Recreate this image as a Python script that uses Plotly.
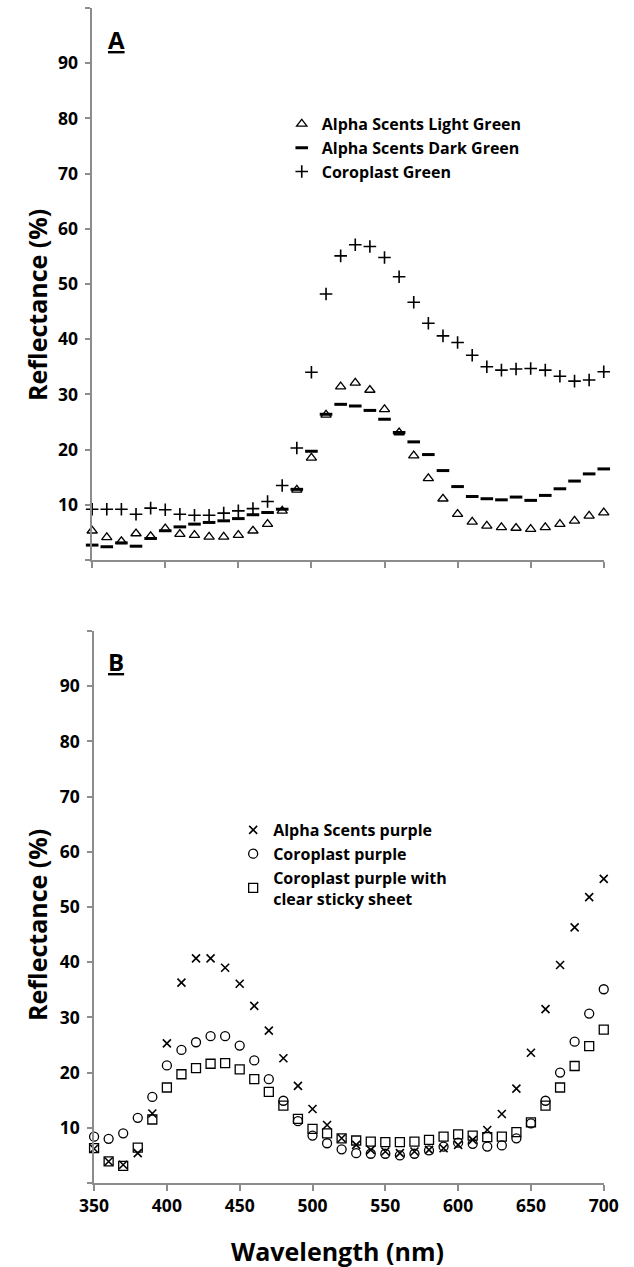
import plotly.graph_objects as go

W, H = 634, 1267

wavelength = [350, 360, 370, 380, 390, 400, 410, 420, 430, 440, 450, 460,
              470, 480, 490, 500, 510, 520, 530, 540, 550, 560, 570, 580,
              590, 600, 610, 620, 630, 640, 650, 660, 670, 680, 690, 700]

# Panel A
light_green = [5.3, 4.1, 3.4, 4.8, 4.3, 5.7, 4.7, 4.5, 4.2, 4.2, 4.5, 5.3,
               6.5, 8.9, 12.7, 18.5, 26.3, 31.4, 32.1, 30.8, 27.3, 23.1, 18.9, 14.8,
               11.1, 8.3, 6.9, 6.2, 5.9, 5.8, 5.6, 5.9, 6.5, 7.1, 8.0, 8.6]
dark_green = [2.7, 2.4, 3.1, 2.5, 3.9, 5.3, 6.0, 6.5, 6.8, 7.1, 7.5, 8.2,
              8.6, 9.2, 12.8, 19.7, 26.4, 28.2, 27.9, 27.1, 25.5, 23.1, 21.4, 19.1,
              16.2, 13.3, 11.5, 11.1, 10.9, 11.4, 10.8, 11.7, 12.9, 14.3, 15.6, 16.5]
coroplast_green = [9.2, 9.2, 9.2, 8.3, 9.4, 9.1, 8.3, 8.1, 8.1, 8.5, 8.9, 9.3,
                   10.6, 13.5, 20.3, 34.0, 48.2, 55.1, 57.1, 56.8, 54.8, 51.3, 46.7, 42.9,
                   40.6, 39.4, 37.1, 35.0, 34.4, 34.6, 34.7, 34.4, 33.3, 32.4, 32.6, 34.1]

# Panel B
alpha_purple = [6.2, 3.9, 3.3, 5.4, 12.6, 25.3, 36.3, 40.7, 40.7, 39.0, 36.1, 32.1,
                27.6, 22.6, 17.6, 13.4, 10.5, 8.1, 6.9, 6.0, 5.7, 5.4, 5.7, 6.0,
                6.3, 6.9, 7.8, 9.6, 12.5, 17.1, 23.6, 31.5, 39.5, 46.3, 51.8, 55.1]
coroplast_purple = [8.4, 8.0, 9.0, 11.8, 15.6, 21.3, 24.1, 25.5, 26.6, 26.6, 24.9, 22.2,
                    18.8, 14.9, 11.2, 8.6, 7.2, 6.1, 5.4, 5.3, 5.3, 5.0, 5.3, 5.9,
                    6.6, 7.3, 7.1, 6.6, 6.8, 8.1, 10.8, 14.9, 20.0, 25.6, 30.7, 35.1]
purple_sticky = [6.3, 3.9, 3.1, 6.4, 11.5, 17.3, 19.7, 20.8, 21.6, 21.7, 20.6, 18.8,
                 16.5, 14.0, 11.6, 9.8, 9.0, 8.1, 7.7, 7.5, 7.4, 7.4, 7.5, 7.8,
                 8.4, 8.8, 8.6, 8.3, 8.4, 9.2, 11.0, 14.0, 17.3, 21.2, 24.8, 27.8]

y_tickvals = [0, 10, 20, 30, 40, 50, 60, 70, 80, 90, 100]
y_ticktext = ["", "10", "20", "30", "40", "50", "60", "70", "80", "90", ""]
x_tickvals = [350, 400, 450, 500, 550, 600, 650, 700]

FONT = "Open Sans"
AXC = "#8c8c8c"

fig = go.Figure()

def add(x, y, name, symbol, size, lw, xa, ya, legend):
    fig.add_trace(go.Scatter(
        x=x, y=y, mode="markers", name=name, xaxis=xa, yaxis=ya, legend=legend,
        cliponaxis=False,
        marker=dict(symbol=symbol, size=size, color="black",
                    line=dict(width=lw, color="black")),
    ))

add(wavelength, light_green, "Alpha Scents Light Green", "triangle-up-open", 9, 1.3, "x", "y", "legend")
add(wavelength, dark_green, "Alpha Scents Dark Green", "line-ew", 9, 3, "x", "y", "legend")
add(wavelength, coroplast_green, "Coroplast Green", "cross-thin", 9, 1.6, "x", "y", "legend")

add(wavelength, alpha_purple, "Alpha Scents purple", "x-thin", 8, 1.6, "x2", "y2", "legend2")
add(wavelength, coroplast_purple, "Coroplast purple", "circle-open", 9, 1.3, "x2", "y2", "legend2")
add(wavelength, purple_sticky, "Coroplast purple with<br>clear sticky sheet", "square-open", 9, 1.3, "x2", "y2", "legend2")

def px_y(p):
    return 1 - p / H

axis_common = dict(showline=True, linecolor=AXC, linewidth=1.5, ticks="outside",
                   tickcolor=AXC, tickwidth=1.5, showgrid=False, zeroline=False,
                   tickfont=dict(family=FONT, size=17.5, color="black", weight="bold"))

leg_font = dict(family=FONT, size=16, color="black", weight="bold")

fig.update_layout(
    width=W, height=H, autosize=False,
    margin=dict(l=0, r=0, t=0, b=0),
    paper_bgcolor="white", plot_bgcolor="white",
    xaxis=dict(domain=[81 / W, 618 / W], range=[350, 700], anchor="y",
               tickvals=x_tickvals, showticklabels=False, ticklen=6, **axis_common),
    yaxis=dict(domain=[px_y(560), px_y(8)], range=[0, 100], anchor="x",
               tickvals=y_tickvals, ticktext=y_ticktext, ticklen=5,
               ticklabelstandoff=4, **axis_common),
    xaxis2=dict(domain=[83 / W, 618 / W], range=[350, 700], anchor="y2",
                tickvals=x_tickvals, ticklen=6, **axis_common),
    yaxis2=dict(domain=[px_y(1183), px_y(631)], range=[0, 100], anchor="x2",
                tickvals=y_tickvals, ticktext=y_ticktext, ticklen=5,
                ticklabelstandoff=4, **axis_common),
    legend=dict(x=280 / W, y=px_y(107), xanchor="left", yanchor="top",
                bgcolor="rgba(0,0,0,0)", font=leg_font, tracegroupgap=0),
    legend2=dict(x=229 / W, y=px_y(813), xanchor="left", yanchor="top",
                 bgcolor="rgba(0,0,0,0)", font=leg_font, tracegroupgap=0),
    showlegend=True,
)

title_font = dict(family=FONT, size=25, color="black", weight="bold")
panel_font = dict(family=FONT, size=24, color="black", weight="bold", lineposition="under")

fig.add_annotation(text="Reflectance (%)", x=23 / W, y=px_y(305), xref="paper", yref="paper",
                   textangle=-90, showarrow=False, font=title_font, xanchor="center", yanchor="middle")
fig.add_annotation(text="Reflectance (%)", x=23 / W, y=px_y(925), xref="paper", yref="paper",
                   textangle=-90, showarrow=False, font=title_font, xanchor="center", yanchor="middle")
fig.add_annotation(text="Wavelength (nm)", x=339 / W, y=px_y(1251), xref="paper", yref="paper",
                   showarrow=False, font=title_font, xanchor="center", yanchor="middle")
fig.add_annotation(text="A", x=96 / W, y=px_y(40), xref="paper", yref="paper",
                   showarrow=False, font=panel_font, xanchor="left", yanchor="middle")
fig.add_annotation(text="B", x=96 / W, y=px_y(661), xref="paper", yref="paper",
                   showarrow=False, font=panel_font, xanchor="left", yanchor="middle")

fig.write_html("out.html")
